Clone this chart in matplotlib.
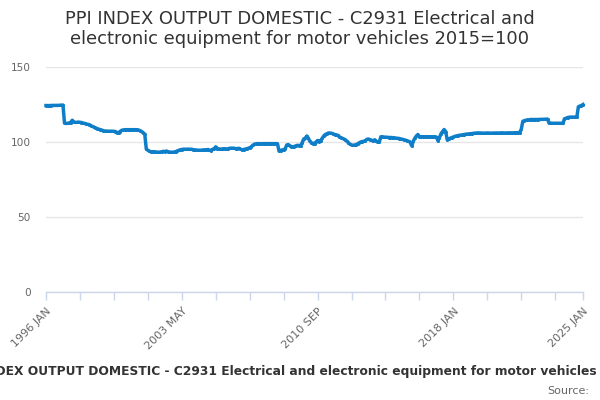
import matplotlib
matplotlib.use("Agg")
import matplotlib.pyplot as plt

# ---- data (monthly index values, 2015=100) ----
years = list(range(1996, 2026))
month_names = ["JAN", "FEB", "MAR", "APR", "MAY", "JUN",
               "JUL", "AUG", "SEP", "OCT", "NOV", "DEC"]

v1996 = [124.3, 124.3, 124.3, 124.3, 124.4, 124.4, 124.4, 124.4, 124.4, 124.5, 124.6, 124.6]
v1997 = [112.5, 112.4, 112.5, 112.7, 113.0, 114.5, 113.3, 113.1, 113.1, 113.3, 113.1, 113.0]
v1998 = [112.6, 112.4, 112.0, 111.8, 111.6, 111.0, 110.4, 110.0, 109.5, 109.0, 108.6, 108.3]
v1999 = [108.0, 107.6, 107.3, 107.3, 107.2, 107.2, 107.2, 107.2, 107.1, 107.0, 106.2, 106.3]
v2000 = [107.0, 107.8, 108.0, 108.2, 108.2, 108.2, 108.2, 108.2, 108.2, 108.2, 108.2, 108.2]
v2001 = [108.0, 107.5, 107.0, 106.2, 105.2, 95.3, 94.5, 93.8, 93.5, 93.5, 93.5, 93.4]
v2002 = [93.3, 93.2, 93.3, 93.5, 93.8, 93.5, 94.0, 93.6, 93.3, 93.2, 93.2, 93.3]
v2003 = [93.6, 94.0, 94.4, 94.8, 95.0, 95.2, 95.2, 95.1, 95.3, 95.1, 95.2, 95.0]
v2004 = [94.8, 94.7, 94.6, 94.5, 94.5, 94.6, 94.7, 94.8, 94.8, 95.0, 94.5, 94.3]
v2005 = [95.2, 95.5, 96.8, 95.3, 95.5, 95.2, 95.3, 95.5, 95.5, 95.3, 95.5, 95.8]
v2006 = [95.9, 95.9, 95.8, 95.6, 95.6, 95.8, 95.3, 94.8, 95.0, 95.2, 95.5, 95.8]
v2007 = [96.2, 96.8, 97.8, 98.5, 98.8, 98.9, 98.9, 98.8, 98.9, 98.9, 98.9, 98.9]
v2008 = [98.9, 98.9, 98.9, 98.9, 98.9, 98.9, 98.9, 94.0, 94.3, 94.7, 94.8, 95.5]
v2009 = [98.0, 98.3, 97.5, 97.0, 96.8, 97.0, 97.5, 97.8, 97.6, 97.5, 99.5, 102.0]
v2010 = [102.5, 104.0, 102.5, 100.5, 99.5, 99.0, 99.0, 100.0, 101.0, 100.2, 101.0, 102.5]
v2011 = [104.0, 105.0, 105.5, 106.0, 106.0, 105.8, 105.5, 105.0, 104.8, 104.5, 103.5, 103.0]
v2012 = [102.5, 102.0, 101.5, 100.5, 99.5, 98.5, 98.0, 97.8, 98.0, 98.3, 98.8, 99.5]
v2013 = [100.0, 100.3, 100.5, 101.0, 101.8, 102.0, 101.5, 101.2, 100.6, 101.5, 100.5, 99.8]
v2014 = [100.0, 103.5, 103.5, 103.3, 103.2, 103.2, 103.0, 103.0, 103.0, 102.8, 102.8, 102.5]
v2015 = [102.5, 102.3, 102.0, 101.8, 101.5, 101.2, 100.8, 100.5, 99.8, 97.5, 100.5, 102.5]
v2016 = [104.0, 105.0, 103.5, 103.5, 103.5, 103.5, 103.5, 103.5, 103.5, 103.5, 103.5, 103.5]
v2017 = [103.5, 103.3, 100.8, 103.0, 105.5, 107.0, 108.3, 107.0, 101.5, 102.0, 102.5, 103.0]
v2018 = [103.3, 103.8, 104.0, 104.3, 104.5, 104.6, 104.8, 105.0, 105.2, 105.3, 105.4, 105.5]
v2019 = [105.6, 105.8, 105.9, 106.0, 106.1, 106.0, 106.0, 105.9, 105.9, 106.0, 106.0, 106.0]
v2020 = [105.9, 105.9, 106.0, 106.0, 106.0, 106.0, 106.0, 106.1, 106.1, 106.0, 106.0, 106.1]
v2021 = [106.1, 106.1, 106.1, 106.1, 106.2, 106.2, 106.2, 106.3, 108.5, 113.8, 114.2, 114.5]
v2022 = [114.8, 114.8, 115.0, 115.0, 115.0, 115.0, 115.0, 115.0, 115.1, 115.1, 115.1, 115.2]
v2023 = [115.2, 115.3, 112.6, 112.5, 112.5, 112.5, 112.5, 112.5, 112.5, 112.5, 112.5, 112.5]
v2024 = [115.5, 115.8, 116.3, 116.5, 116.6, 116.6, 116.6, 116.6, 116.6, 123.5, 124.0, 124.3]
v2025 = [125.0]

yearly = [v1996, v1997, v1998, v1999, v2000, v2001, v2002, v2003, v2004, v2005,
          v2006, v2007, v2008, v2009, v2010, v2011, v2012, v2013, v2014, v2015,
          v2016, v2017, v2018, v2019, v2020, v2021, v2022, v2023, v2024, v2025]

categories = []
values = []
for y, vals in zip(years, yearly):
    for m, v in zip(month_names, vals):
        categories.append(f"{y} {m}")
        values.append(v)

tick_labels = ["1996 JAN", "2003 MAY", "2010 SEP", "2018 JAN", "2025 JAN"]
y_ticks = [0, 50, 100, 150]

title = ("PPI INDEX OUTPUT DOMESTIC - C2931 Electrical and\n"
         "electronic equipment for motor vehicles 2015=100")
series_name = ("PPI INDEX OUTPUT DOMESTIC - C2931 Electrical and electronic "
               "equipment for motor vehicles")

# ---- figure ----
plt.rcParams['font.family'] = ['DejaVu Sans']
fig = plt.figure(figsize=(6, 4), dpi=100)
ax = fig.add_axes([46 / 600, 108 / 400, 537 / 600, 225 / 400])

x = list(range(len(values)))
line_color = "#0f7ec8"
ax.plot(x, values, color=line_color, linewidth=2.5, solid_joinstyle="round",
        marker="o", markersize=2.2, markeredgewidth=0, clip_on=False)

ax.set_xlim(0, len(values) - 1)
ax.set_ylim(0, 150)

# grid / axes styling
ax.set_yticks(y_ticks)
ax.set_yticklabels([str(t) for t in y_ticks])
ax.yaxis.grid(True, color="#e6e6e6", linewidth=1)
ax.set_axisbelow(True)
for s in ["top", "right", "left"]:
    ax.spines[s].set_visible(False)
ax.spines["bottom"].set_color("#ccd6eb")
ax.spines["bottom"].set_linewidth(1)
ax.tick_params(axis="y", length=0, pad=11, labelsize=7.6, labelcolor="#666666")

# x ticks: every 22 months plus the last category; labels every 4th tick
tick_pos = list(range(0, len(values) - 1, 22)) + [len(values) - 1]
labels = []
for p in tick_pos:
    lab = categories[p]
    labels.append(lab if lab in tick_labels else "")
ax.set_xticks(tick_pos)
ax.set_xticklabels(labels, rotation=45, ha="right", va="top",
                   rotation_mode="anchor")
ax.tick_params(axis="x", length=6, width=1, color="#ccd6eb", pad=4,
               labelsize=8, labelcolor="#666666")

fig.text(0.5, 1 - 29 / 400, title, ha="center", va="center",
         fontsize=12.9, color="#333333", linespacing=1.1)

fig.text(597 / 600, 1 - 371 / 400, series_name, ha="right", va="center",
         fontsize=8.8, fontweight="bold", color="#333333")
fig.text(589 / 600, 1 - 391 / 400, "Source:", ha="right", va="center",
         fontsize=8, color="#666666")

fig.savefig("out.png", dpi=100)
